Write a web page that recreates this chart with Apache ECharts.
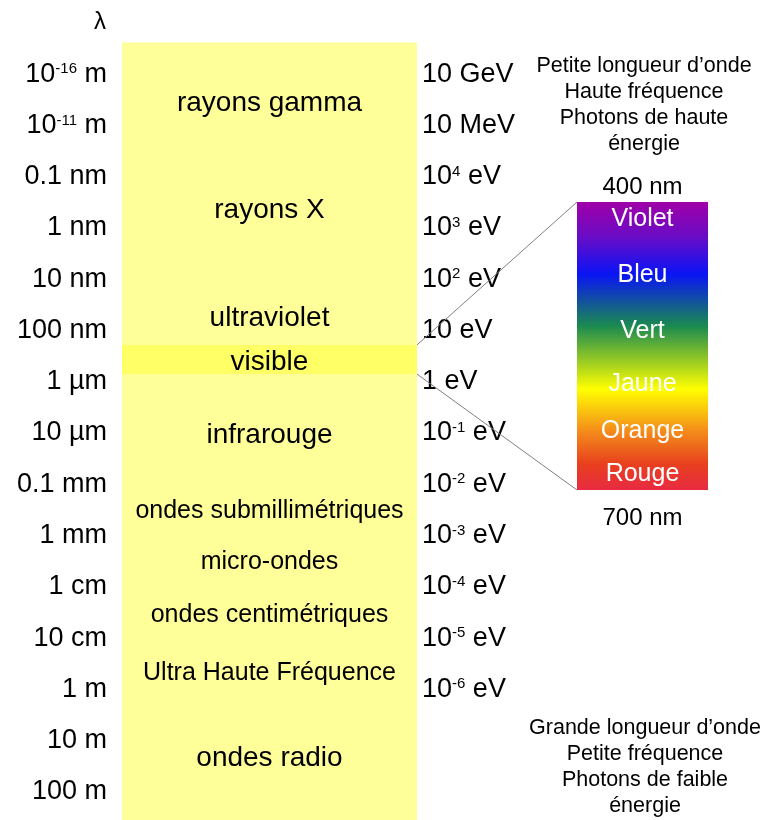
<!DOCTYPE html>
<html>
<head>
<meta charset="utf-8">
<script src="https://cdn.jsdelivr.net/npm/echarts@6/dist/echarts.min.js"></script>
<style>
    html, body { margin: 0; padding: 0; background: #fff; }
    #chart { width: 767px; height: 820px; }
</style>
</head>
<body>
<div id="chart"></div>
<script>
// rows of the scale (one row per decade-ish step, top to bottom)
const wavelengths = ['10{s|-16} m', '10{s|-11} m', '0.1 nm', '1 nm', '10 nm', '100 nm', '1 µm', '10 µm',
    '0.1 mm', '1 mm', '1 cm', '10 cm', '1 m', '10 m', '100 m'];
const energies = ['10 GeV', '10 MeV', '10{s|4} eV', '10{s|3} eV', '10{s|2} eV', '10 eV', '1 eV',
    '10{s|-1} eV', '10{s|-2} eV', '10{s|-3} eV', '10{s|-4} eV', '10{s|-5} eV', '10{s|-6} eV'];

// main domains, placed on the row scale
const bandNames = ['rayons gamma', 'rayons X', 'ultraviolet', 'visible', 'infrarouge', 'ondes radio'];
const bandPos = [0.565, 2.65, 4.76, 5.61, 7.04, 13.35];
// sub-domains of the radio waves
const subBandNames = ['ondes submillimétriques', 'micro-ondes', 'ondes centimétriques', 'Ultra Haute Fréquence'];
const subBandPos = [8.52, 9.51, 10.55, 11.68];

const columnRange = [-0.62, 14.55];
const visibleRange = [5.28, 5.85];

// zoom on the visible part (nm)
const spectrumRange = [400, 700];
const colourNames = ['Violet', 'Bleu', 'Vert', 'Jaune', 'Orange', 'Rouge'];
const colourPos = [418, 476, 535, 590, 639, 683];

const font = 'Liberation Sans, Arial, sans-serif';
const sup = { fontSize: 15, fontFamily: font, color: '#000', padding: [0, 0, 10, 0] };

function rowLabel(list) {
    return function (v) {
        if (Math.abs(v - Math.round(v)) > 1e-6) return '';
        return list[Math.round(v)] || '';
    };
}

function textSeries(name, xi, yi, names, pos, size, color) {
    return {
        name: name,
        type: 'scatter',
        xAxisIndex: xi,
        yAxisIndex: yi,
        symbolSize: 0,
        silent: true,
        z: 5,
        itemStyle: { opacity: 1 },
        data: names.map((n, i) => ({ value: [0.5, pos[i]], name: n })),
        label: {
            show: true, position: 'inside', formatter: '{b}',
            fontFamily: font, fontSize: size, color: color, opacity: 1,
            textBorderWidth: 0, textBorderColor: 'transparent'
        }
    };
}

const chart = echarts.init(document.getElementById('chart'));

const options = {
    backgroundColor: '#fff',
    animation: false,
    title: [
        {
            text: 'λ', left: 100, top: 10, padding: 0, textAlign: 'center',
            textStyle: { fontFamily: font, fontSize: 24, fontWeight: 'normal', color: '#000' }
        },
        {
            text: 'Petite longueur d’onde\nHaute fréquence\nPhotons de haute\nénergie',
            left: 644, top: 53, padding: 0, textAlign: 'center',
            textStyle: { fontFamily: font, fontSize: 21.5, lineHeight: 26, fontWeight: 'normal', color: '#000' }
        },
        {
            text: 'Grande longueur d’onde\nPetite fréquence\nPhotons de faible\nénergie',
            left: 645, top: 715, padding: 0, textAlign: 'center',
            textStyle: { fontFamily: font, fontSize: 21.5, lineHeight: 26, fontWeight: 'normal', color: '#000' }
        }
    ],
    grid: [
        { left: 122, right: 350, top: 23, bottom: 0 },
        { left: 577, width: 131, top: 202, height: 288 }
    ],
    xAxis: [
        { gridIndex: 0, type: 'value', min: 0, max: 1, show: false },
        {
            gridIndex: 1, type: 'value', min: 0, max: 1, position: 'bottom',
            axisLine: { show: false }, axisTick: { show: false }, axisLabel: { show: false },
            splitLine: { show: false },
            name: spectrumRange[1] + ' nm', nameLocation: 'middle', nameGap: 16,
            nameTextStyle: { fontFamily: font, fontSize: 24, color: '#000', verticalAlign: 'top' }
        },
        {
            gridIndex: 1, type: 'value', min: 0, max: 1, position: 'top',
            axisLine: { show: false }, axisTick: { show: false }, axisLabel: { show: false },
            splitLine: { show: false },
            name: spectrumRange[0] + ' nm', nameLocation: 'middle', nameGap: 3,
            nameTextStyle: { fontFamily: font, fontSize: 24, color: '#000' }
        }
    ],
    yAxis: [
        {
            gridIndex: 0, type: 'value', inverse: true, min: -1, max: columnRange[1], interval: 1,
            position: 'left',
            axisLine: { show: false }, axisTick: { show: false }, splitLine: { show: false },
            axisLabel: {
                margin: 15, fontFamily: font, fontSize: 27, color: '#000',
                formatter: rowLabel(wavelengths), rich: { s: sup }
            }
        },
        {
            gridIndex: 0, type: 'value', inverse: true, min: -1, max: columnRange[1], interval: 1,
            position: 'right',
            axisLine: { show: false }, axisTick: { show: false }, splitLine: { show: false },
            axisLabel: {
                margin: 5, fontFamily: font, fontSize: 27, color: '#000',
                formatter: rowLabel(energies), rich: { s: sup }
            }
        },
        {
            gridIndex: 1, type: 'value', inverse: true, min: spectrumRange[0], max: spectrumRange[1],
            show: false
        }
    ],
    series: [
        {
            name: 'colonne',
            type: 'scatter',
            xAxisIndex: 0,
            yAxisIndex: 0,
            data: [],
            z: 1,
            markArea: {
                silent: true,
                data: [
                    [{ xAxis: 0, yAxis: columnRange[0], itemStyle: { color: '#ffff99', opacity: 1 } },
                     { xAxis: 1, yAxis: columnRange[1] }],
                    [{ xAxis: 0, yAxis: visibleRange[0], itemStyle: { color: '#ffff66', opacity: 1 } },
                     { xAxis: 1, yAxis: visibleRange[1] }]
                ]
            }
        },
        {
            name: 'spectre',
            type: 'scatter',
            xAxisIndex: 1,
            yAxisIndex: 2,
            data: [],
            z: 1,
            markArea: {
                silent: true,
                data: [[
                    {
                        xAxis: 0, yAxis: spectrumRange[0],
                        itemStyle: {
                            opacity: 1,
                            color: new echarts.graphic.LinearGradient(0, 0, 0, 1, [
                                { offset: 0, color: '#a000a8' },
                                { offset: 0.12, color: '#6a0cc6' },
                                { offset: 0.25, color: '#0a14f5' },
                                { offset: 0.43, color: '#1a8a50' },
                                { offset: 0.65, color: '#ffff00' },
                                { offset: 0.79, color: '#f5901a' },
                                { offset: 0.91, color: '#e8401e' },
                                { offset: 1, color: '#e82a42' }
                            ])
                        }
                    },
                    { xAxis: 1, yAxis: spectrumRange[1] }
                ]]
            }
        },
        textSeries('domaines', 0, 0, bandNames, bandPos, 28, '#000'),
        textSeries('sous-domaines', 0, 0, subBandNames, subBandPos, 25, '#000'),
        textSeries('couleurs', 1, 2, colourNames, colourPos, 25, '#fff')
    ]
};

chart.setOption(options);

// guide lines from the visible strip to the zoomed spectrum
const a1 = chart.convertToPixel({ gridIndex: 0 }, [1, visibleRange[0]]);
const a2 = chart.convertToPixel({ gridIndex: 0 }, [1, visibleRange[1]]);
const b1 = chart.convertToPixel({ xAxisIndex: 1, yAxisIndex: 2 }, [0, spectrumRange[0]]);
const b2 = chart.convertToPixel({ xAxisIndex: 1, yAxisIndex: 2 }, [0, spectrumRange[1]]);
chart.setOption({
    graphic: [
        { type: 'line', shape: { x1: a1[0], y1: a1[1], x2: b1[0], y2: b1[1] }, style: { stroke: '#808080', lineWidth: 1 }, z: 10 },
        { type: 'line', shape: { x1: a2[0], y1: a2[1], x2: b2[0], y2: b2[1] }, style: { stroke: '#808080', lineWidth: 1 }, z: 10 }
    ]
});
</script>
</body>
</html>
